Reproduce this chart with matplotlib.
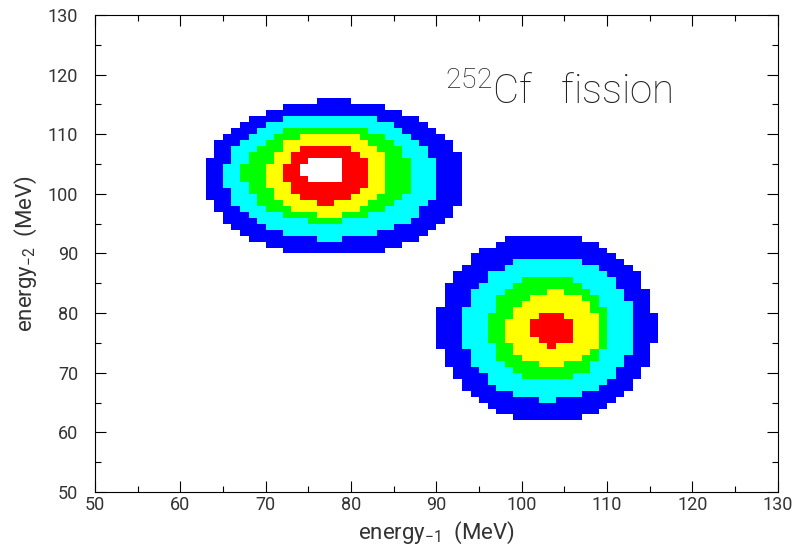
import numpy as np
import matplotlib.pyplot as plt
from matplotlib.colors import ListedColormap, BoundaryNorm
from matplotlib.ticker import MultipleLocator

plt.rcParams['font.family'] = ['Roboto', 'DejaVu Sans']
plt.rcParams['mathtext.default'] = 'regular'

# contour level extents (MeV), outermost level first
# light fragment peak in energy_-2 (upper left)
b1_left = [62.8, 65.2, 67.3, 70.2, 72.2, 74.3]
b1_right = [93.3, 90.2, 87.2, 84.3, 82.4, 79.3]
b1_bottom = [89.6, 92.4, 95.3, 96.3, 98.4, 101.6]
b1_top = [115.6, 113.5, 111.5, 110.4, 108.5, 106.5]
# light fragment peak in energy_-1 (lower right)
b2_left = [90.2, 93.1, 96.2, 98.2, 101.1]
b2_right = [115.7, 113.1, 110.1, 109.2, 106.2]
b2_bottom = [61.8, 65.4, 68.5, 71.3, 74.4]
b2_top = [93.5, 89.5, 86.4, 83.6, 80.3]

level_colors = ['white', '#0000ff', '#00ffff', '#00ff00', '#ffff00', '#ff0000', 'white']

edges = np.arange(50, 131, 1.0)
centers = edges[:-1] + 0.5
X, Y = np.meshgrid(centers, centers)


def blob_levels(left, right, bottom, top):
    lev = np.zeros_like(X, dtype=int)
    for l, r, b, t in zip(left, right, bottom, top):
        cx, cy = (l + r) / 2, (b + t) / 2
        rx, ry = (r - l) / 2, (t - b) / 2
        inside = ((X - cx) / rx) ** 2 + ((Y - cy) / ry) ** 2 <= 1.0
        lev += inside
    return lev


Z = blob_levels(b1_left, b1_right, b1_bottom, b1_top) + \
    blob_levels(b2_left, b2_right, b2_bottom, b2_top)

cmap = ListedColormap(level_colors)
norm = BoundaryNorm(np.arange(-0.5, 7.5, 1), cmap.N)

fig = plt.figure(figsize=(7.97, 5.55), dpi=100)
ax = fig.add_axes([0.119, 0.1135, 0.857, 0.8595])
ax.pcolormesh(edges, edges, Z, cmap=cmap, norm=norm)

ax.set_xlim(50, 130)
ax.set_ylim(50, 130)
ax.xaxis.set_major_locator(MultipleLocator(10))
ax.xaxis.set_minor_locator(MultipleLocator(5))
ax.yaxis.set_major_locator(MultipleLocator(10))
ax.yaxis.set_minor_locator(MultipleLocator(5))
ax.tick_params(which='both', direction='in', top=True, right=True,
               width=0.8, labelsize=13, labelcolor='#333333')
ax.tick_params(axis='x', pad=3)
ax.tick_params(axis='y', pad=12)
ax.tick_params(which='major', length=8)
ax.tick_params(which='minor', length=4)
for s in ax.spines.values():
    s.set_linewidth(0.8)

ax.set_xlabel(r'energy$_{-1}$  (MeV)', fontsize=16, labelpad=4, color='#333333')
ax.set_ylabel(r'energy$_{-2}$  (MeV)', fontsize=16, labelpad=6, color='#333333')
ax.text(91, 117, r'$^{252}$Cf   fission', fontsize=29, va='center',
        color='#222222', fontweight='light')

fig.savefig('out.png', dpi=100)
